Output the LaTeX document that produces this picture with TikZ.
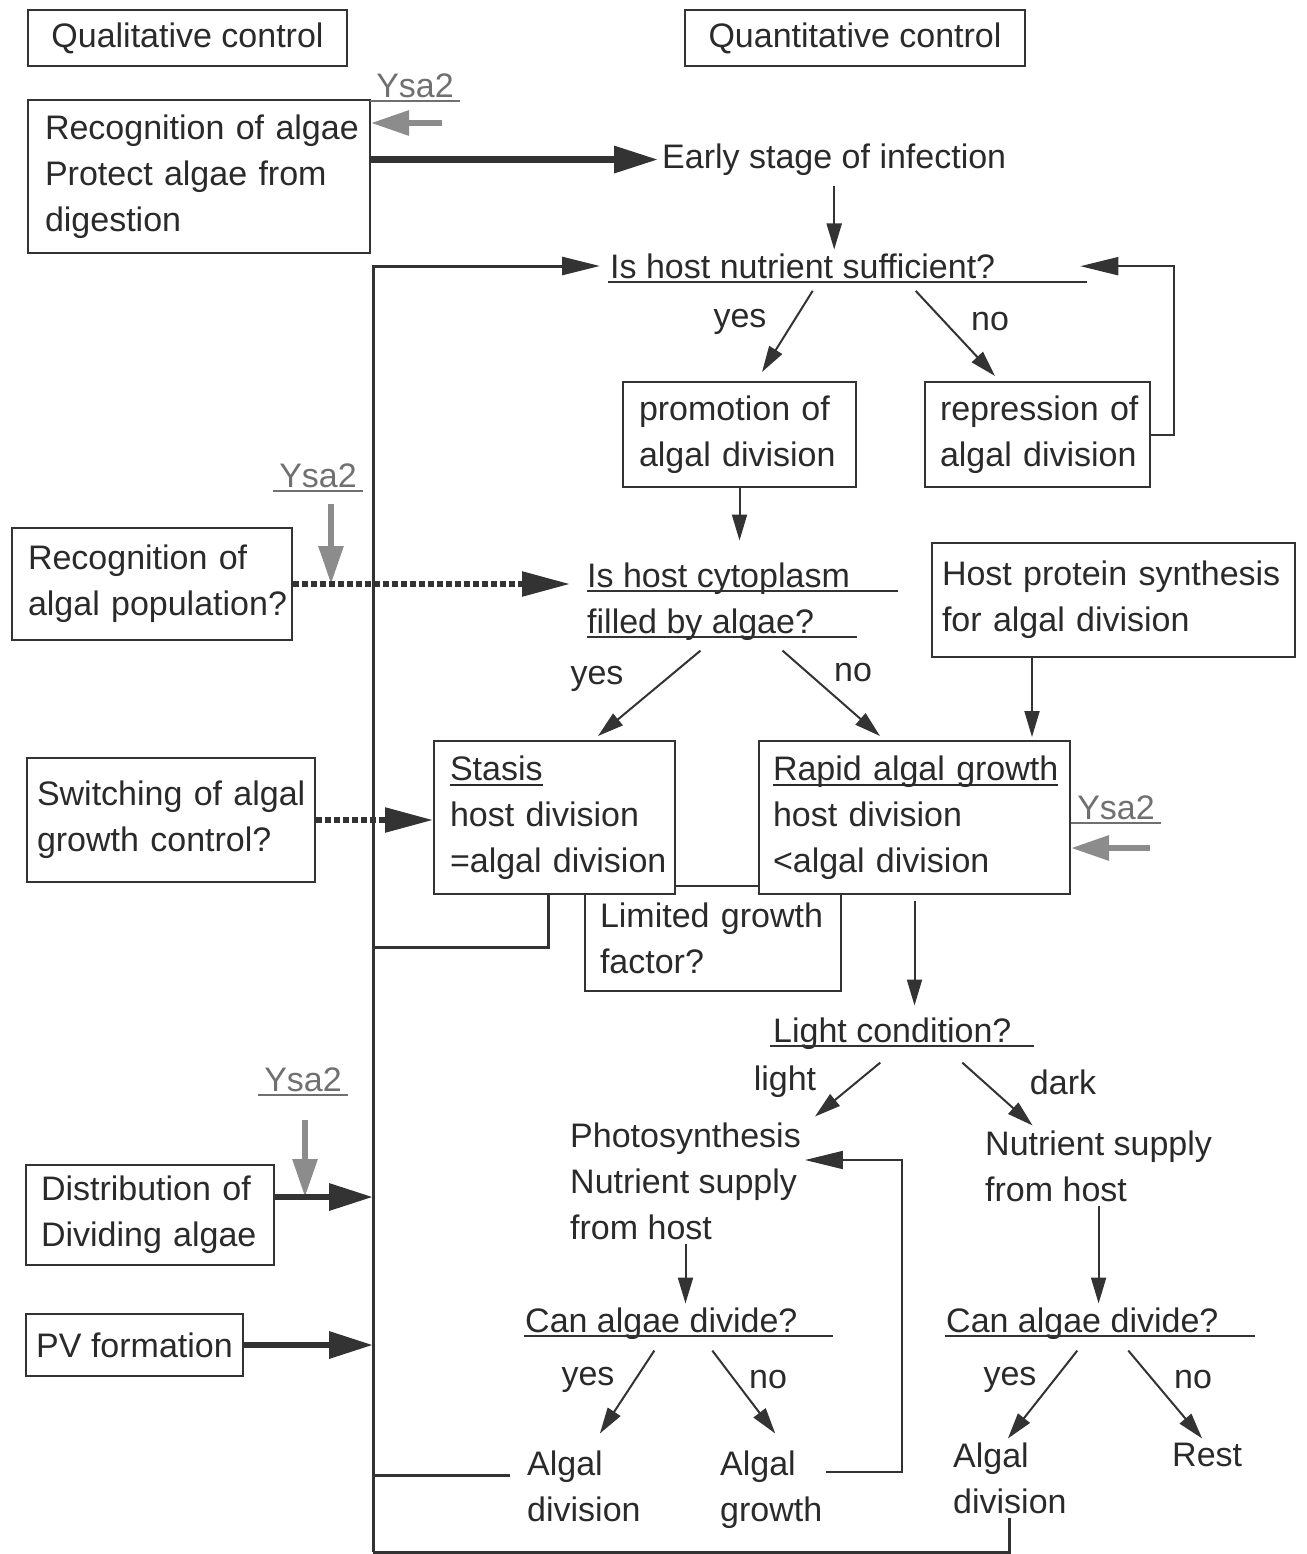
\documentclass[tikz,border=0pt]{standalone}
\usepackage{fontspec}
\setmainfont{Liberation Sans}
\usetikzlibrary{arrows.meta}
\definecolor{linec}{HTML}{333333}
\definecolor{txtc}{HTML}{2A2A2A}
\definecolor{grayc}{HTML}{8C8C8C}
\definecolor{ysac}{HTML}{707070}
\hyphenpenalty=10000
\exhyphenpenalty=10000
\newsavebox\ulbox
\newcommand\ultext[1]{\sbox\ulbox{#1}\rlap{\rule[-6pt]{\wd\ulbox}{1.8pt}}\usebox\ulbox}
\begin{document}
\begin{tikzpicture}[x=1pt,y=-1pt,font=\fontsize{34}{46}\selectfont,text=txtc,
    box/.style={draw=linec,line width=2pt,fill=white,align=left,inner ysep=0pt},
    txt/.style={anchor=north west,align=left,inner sep=4pt},
    lbl/.style={inner sep=2pt},
    ysa/.style={text=ysac,inner xsep=6pt,inner ysep=3pt,
        append after command={(\tikzlastnode.south west) edge[draw=ysac,line width=1.5pt] (\tikzlastnode.south east)}},
    uline/.style={draw=linec,line width=1.5pt},
    arr/.style={draw=linec,line width=2pt,-{Triangle[length=26pt,width=15pt]}},
    fbarr/.style={draw=linec,line width=2pt,-{Triangle[length=38pt,width=18pt]}},
    loopln/.style={draw=linec,line width=3pt},
    thickarr/.style={draw=linec,line width=6.5pt,-{Triangle[length=44pt,width=26pt]}},
    dotarr/.style={draw=linec,line width=5.5pt,dash pattern=on 5.5pt off 3.5pt,-{Triangle[length=48pt,width=24pt]}},
    grayarr/.style={draw=grayc,line width=6pt,-{Triangle[length=38pt,width=24pt]}}]
\useasboundingbox (0,0) rectangle (1306,1554);

\node[box,align=center,minimum width=319pt,minimum height=56pt] (qual) at (187.5,38) {Qualitative control};
\node[box,align=center,minimum width=340pt,minimum height=56pt] (quant) at (855,38) {Quantitative control};
\node[box,text width=308pt,inner xsep=17pt,minimum height=153pt] (recog) at (199,176.5) {Recognition~of~algae\\Protect~algae~from\\digestion};
\node[txt] (early) at (658,139.5) {Early stage of infection};
\node[txt] (nutr) at (606,249.5) {Is host nutrient sufficient?};
\node[box,text width=201pt,inner xsep=16pt,minimum height=105pt] (promo) at (739.5,434.5) {promotion~of\\algal~division};
\node[box,text width=195pt,inner xsep=15pt,minimum height=105pt] (repr) at (1037.5,434.5) {repression~of\\algal~division};
\node[txt] (cyto) at (583,558.5) {Is host cytoplasm\\filled by algae?};
\node[box,text width=248pt,inner xsep=16pt,minimum height=112pt] (popul) at (152,584) {Recognition~of\\algal~population?};
\node[box,text width=343pt,inner xsep=10pt,minimum height=114pt] (prot) at (1113.5,600) {Host~protein~synthesis\\for~algal~division};
\node[box,text width=226pt,inner xsep=15pt,minimum height=105pt] (limit) at (713,938.5) {Limited~growth\\factor?};
\node[box,text width=209pt,inner xsep=16pt,minimum height=153pt] (stasis) at (554.5,817.5) {\ultext{Stasis}\\host~division\\=algal~division};
\node[box,text width=283pt,inner xsep=14pt,minimum height=153pt] (rapid) at (914.5,817.5) {\ultext{Rapid~algal~growth}\\host~division\\<algal~division};
\node[box,text width=268pt,inner xsep=10pt,minimum height=124pt] (switch) at (171,820) {Switching~of~algal\\growth~control?};
\node[txt] (light) at (769,1013.5) {Light condition?};
\node[txt] (photo) at (566,1118.5) {Photosynthesis\\Nutrient supply\\from host};
\node[txt] (supply) at (981,1126.5) {Nutrient supply\\from host};
\node[box,text width=218pt,inner xsep=15pt,minimum height=100pt] (distr) at (150,1215) {Distribution~of\\Dividing~algae};
\node[box,align=center,minimum width=217pt,minimum height=62pt] (pv) at (134.5,1345) {PV formation};
\node[txt] (canL) at (521,1303.5) {Can algae divide?};
\node[txt] (canR) at (942,1303.5) {Can algae divide?};
\node[txt] (divL) at (523,1446.5) {Algal\\division};
\node[txt] (growth) at (716,1446.5) {Algal\\growth};
\node[txt] (divR) at (949,1438.5) {Algal\\division};
\node[txt] (rest) at (1168,1438.5) {Rest};

\node[lbl] (yes1) at (740,322) {yes};
\node[lbl] (no1) at (990,322) {no};
\node[lbl] (yes2) at (597,679) {yes};
\node[lbl] (no2) at (853,673) {no};
\node[lbl] (lightl) at (785,1082) {light};
\node[lbl] (darkl) at (1063,1082) {dark};
\node[lbl] (yes3) at (588,1380) {yes};
\node[lbl] (no3) at (768,1380) {no};
\node[lbl] (yes4) at (1010,1380) {yes};
\node[lbl] (no4) at (1193,1380) {no};

\node[ysa] (ysa1) at (415,86) {Ysa2};
\node[ysa] (ysa2) at (318,476) {Ysa2};
\node[ysa] (ysa3) at (1116,808) {Ysa2};
\node[ysa] (ysa4) at (303,1080) {Ysa2};

\draw[uline] (608,282) -- (1087,282);
\draw[uline] (587,591) -- (898,591);
\draw[uline] (587,637) -- (857,637);
\draw[uline] (770,1046) -- (1034,1046);
\draw[uline] (524,1336) -- (833,1336);
\draw[uline] (945,1336) -- (1255,1336);

\coordinate (ltop) at (373,266);
\coordinate (lbot) at (373,1552);
\coordinate (j1) at (373,947);
\coordinate (j2) at (373,1475);
\coordinate (j3) at (373,1197);
\coordinate (g1) at (442,123);
\coordinate (g2) at (331,504);
\coordinate (g3) at (1150,848);
\coordinate (g4) at (305,1120);
\coordinate (fb) at (902,1160);
\coordinate (fb2) at (902,1472);
\coordinate (p1) at ([xshift=-81.5pt]prot.south);

\draw[grayarr] (g1) -- (g1 -| recog.east);
\draw[thickarr] (recog.east |- early.west) -- (early.west);
\draw[arr,shorten <=6pt] (early.south) -- (early.south |- nutr.north);
\draw[loopln,-{Triangle[length=38pt,width=18pt]},shorten >=6pt] (lbot) -- (ltop) -- (ltop -| nutr.west);
\draw[arr] ([xshift=10pt,yshift=-8pt]nutr.south) -- ([xshift=22.5pt,yshift=9pt]promo.north);
\draw[arr] ([xshift=113pt,yshift=-8pt]nutr.south) -- ([xshift=-42.5pt,yshift=5pt]repr.north);
\draw[fbarr] (repr.east) -- ++(23,0) |- ([xshift=81pt]nutr.east);
\draw[arr,shorten >=18pt] (promo.south) -- (promo.south |- cyto.north);
\draw[grayarr] (g2) -- (g2 |- popul.east);
\draw[dotarr,shorten >=13pt] (popul.east) -- (popul.east -| cyto.west);
\draw[arr] ([xshift=-18pt,yshift=-6pt]cyto.south) -- ([xshift=43.5pt,yshift=4pt]stasis.north);
\draw[arr] ([xshift=64pt,yshift=-6pt]cyto.south) -- ([xshift=-34.5pt,yshift=4pt]rapid.north);
\draw[arr,shorten >=3pt] (p1) -- (p1 |- rapid.north);
\draw[dotarr] (switch.east) -- (switch.east -| stasis.west);
\draw[grayarr] (g3) -- (g3 -| rapid.east);
\draw[loopln] ([xshift=-6.5pt]stasis.south) |- (j1);
\draw[arr,shorten <=6pt,shorten >=8pt] (rapid.south) -- (rapid.south |- light.north);
\draw[arr] ([xshift=-12pt,yshift=-9pt]light.south) -- ([xshift=10pt,yshift=2pt]photo.north east);
\draw[arr] ([xshift=70pt,yshift=-9pt]light.south) -- ([xshift=-66pt,yshift=1pt]supply.north);
\draw[arr] (supply.south) -- (supply.south |- canR.north);
\draw[arr] (photo.south) -- (photo.south |- canL.north);
\draw[grayarr] (g4) -- (g4 |- j3);
\draw[thickarr] (distr.east |- j3) -- (j3);
\draw[thickarr] (pv.east) -- (pv.east -| lbot);
\draw[arr] ([xshift=-7pt,yshift=-7pt]canL.south) -- ([xshift=16pt,yshift=13pt]divL.north);
\draw[arr] ([xshift=51pt,yshift=-7pt]canL.south) -- ([xshift=4pt,yshift=13pt]growth.north);
\draw[arr] ([xshift=-5pt,yshift=-7pt]canR.south) -- ([xshift=-2pt]divR.north);
\draw[arr] ([xshift=46pt,yshift=-7pt]canR.south) -- ([xshift=-5pt]rest.north);
\draw[loopln,shorten <=13pt] (divL.west |- j2) -- (j2);
\draw[fbarr] (growth.east |- fb2) -- (fb2) -- (fb) -- (fb -| photo.east);
\draw[loopln] (divR.south) |- (lbot);
\end{tikzpicture}
\end{document}
